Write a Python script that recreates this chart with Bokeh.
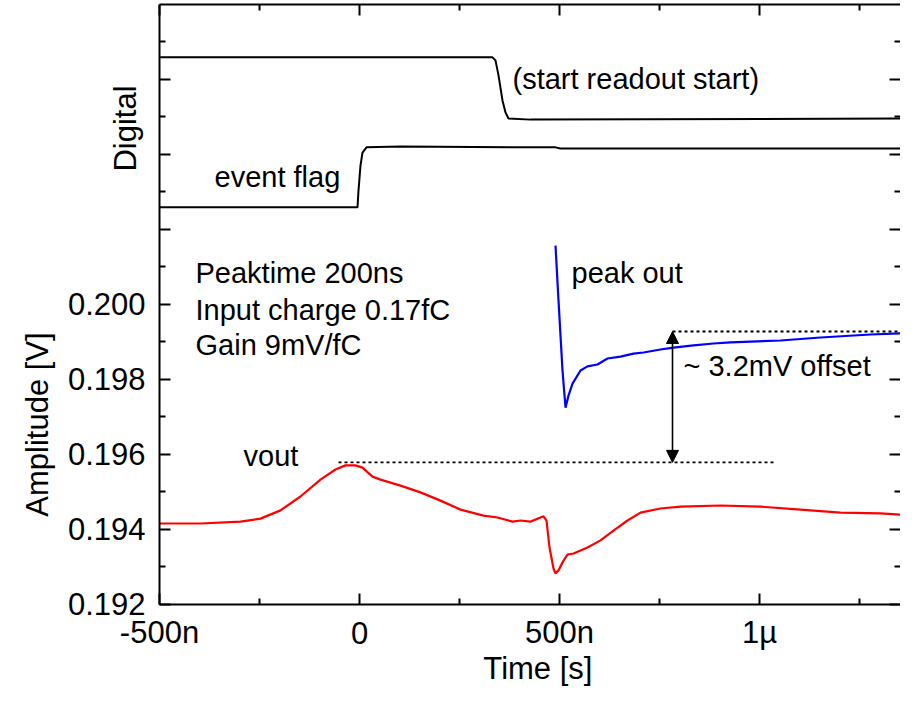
from bokeh.plotting import figure
from bokeh.models import Range1d, LinearAxis, FixedTicker, Arrow, NormalHead
from bokeh.core.properties import value
from bokeh.embed import file_html
from bokeh.resources import INLINE
import math

FONT = "Liberation Sans"

# ---------------- data (time in ns, amplitude in V) ----------------
vout_t = [-500, -397.5, -297.5, -247.5, -197.5, -147.5, -97.5, -60, -35, -10, 7.5,
          32.5, 52.5, 102.5, 152.5, 202.5, 252.5, 310, 345, 382.5, 402.5, 427.5,
          452.5, 460, 467.5, 475, 485, 490, 497.5, 510, 520, 535, 570, 602.5, 635,
          670, 702.5, 752.5, 802.5, 902.5, 1002.5, 1102.5, 1202.5, 1302.5, 1392.5]
vout_v = [0.19416, 0.19416, 0.19421, 0.19429, 0.19451, 0.19488, 0.19533, 0.19560,
          0.19571, 0.19571, 0.19565, 0.19541, 0.19533, 0.19517, 0.19499, 0.19477,
          0.19453, 0.19437, 0.19432, 0.19421, 0.19424, 0.19421, 0.19432, 0.19435,
          0.19424, 0.19352, 0.19296, 0.19283, 0.19291, 0.19317, 0.19333, 0.19336,
          0.19352, 0.19371, 0.19397, 0.19424, 0.19445, 0.19456, 0.19461, 0.19464,
          0.19461, 0.19453, 0.19445, 0.19443, 0.19437]

peak_t = [490, 497.5, 507.5, 515, 522.5, 532.5, 552.5, 570, 595, 620, 652.5, 685,
          710, 752.5, 785, 835, 885, 927.5, 1052.5, 1152.5, 1277.5, 1392.5]
peak_v = [0.20157, 0.20011, 0.19824, 0.19725, 0.19757, 0.19789, 0.19824, 0.19835,
          0.19840, 0.19856, 0.19861, 0.19869, 0.19872, 0.19880, 0.19885, 0.19891,
          0.19896, 0.19899, 0.19904, 0.19912, 0.19920, 0.19925]

readout_t = [-500, 332.5, 340, 347.5, 357.5, 365, 372.5, 427.5, 1392.5]
readout_v = [0.20659, 0.20659, 0.20651, 0.20611, 0.20544, 0.20512, 0.20496,
             0.20493, 0.20496]

flag_t = [-500, -5, -2.5, 2.5, 7.5, 17.5, 102.5, 490, 502.5, 1392.5]
flag_v = [0.20259, 0.20259, 0.20304, 0.20371, 0.20405, 0.20419, 0.20421,
          0.20419, 0.20416, 0.20416]

vout_peak_level = 0.19579
vout_level_t = [-52.5, 1040]
peak_level = 0.19928
peak_level_t = [782.5, 1392.5]
offset_t = 782.5

# axes
x_start, x_end = -500, 1352.5
y_start, y_end = 0.192, 0.208
x_major = [-500, 0, 500, 1000]
x_minor = [-250, 250, 750, 1250]
x_label_text = ["-500n", "0", "500n", "1µ"]
y_major = [0.192, 0.194, 0.196, 0.198, 0.200, 0.202, 0.204, 0.206]
y_minor = [0.193, 0.195, 0.197, 0.199, 0.201, 0.203, 0.205, 0.207]
y_label_vals = [0.192, 0.194, 0.196, 0.198, 0.200]
y_label_text = ["0.192", "0.194", "0.196", "0.198", "0.200"]

notes = ["Peaktime 200ns", "Input charge 0.17fC", "Gain 9mV/fC"]
notes_t = [-410, -410, -410]
notes_v = [0.200853, 0.19984, 0.198907]
labels = ["(start readout start)", "event flag", "peak out", "vout", "~ 3.2mV offset"]
labels_t = [382.5, -362.5, 530, -290, 810]
labels_v = [0.2060, 0.203413, 0.200853, 0.195947, 0.198373]

ytitles = ["Digital", "Amplitude [V]"]
ytitles_t = [-585, -805]
ytitles_v = [0.204693, 0.1968]
xtitle = "Time [s]"
xtitle_t = 446
xtitle_v = 0.1902933

ylabel_t = -535        # right edge of the y tick labels
xlabel_v = 0.191253    # vertical centre of the x tick labels

# ---------------- figure ----------------
p = figure(width=900, height=686, output_backend="svg", toolbar_location=None,
           x_range=Range1d(-897.5, x_end), y_range=Range1d(0.1898133, y_end),
           x_axis_location=None, y_axis_location=None,
           min_border_left=0, min_border_right=0, min_border_top=4,
           min_border_bottom=0)
p.outline_line_color = None
p.xgrid.visible = False
p.ygrid.visible = False
p.background_fill_color = "white"
p.border_fill_color = "white"


def style_axis(ax, line=True):
    ax.axis_line_width = 2
    ax.axis_line_color = "black" if line else None
    ax.major_tick_line_width = 2
    ax.minor_tick_line_width = 2
    ax.major_tick_in = 11
    ax.major_tick_out = 0
    ax.minor_tick_in = 6
    ax.minor_tick_out = 0
    ax.major_label_standoff = 0
    ax.major_label_text_font_size = "0px"


xb = LinearAxis(ticker=FixedTicker(ticks=x_major, minor_ticks=x_minor),
                bounds=(x_start, x_end), fixed_location=y_start)
xb.major_label_overrides = {k: "" for k in x_major}
style_axis(xb)
p.add_layout(xb, "below")

xt = LinearAxis(ticker=FixedTicker(ticks=x_major, minor_ticks=x_minor),
                bounds=(x_start, x_end))
xt.major_label_overrides = {k: "" for k in x_major}
style_axis(xt)
p.add_layout(xt, "above")

yl = LinearAxis(ticker=FixedTicker(ticks=y_major, minor_ticks=y_minor),
                bounds=(y_start, y_end), fixed_location=x_start)
yl.major_label_overrides = {k: "" for k in y_major}
style_axis(yl)
p.add_layout(yl, "left")

yr = LinearAxis(ticker=FixedTicker(ticks=y_major, minor_ticks=y_minor),
                bounds=(y_start, y_end))
yr.major_label_overrides = {k: "" for k in y_major}
style_axis(yr, line=False)
p.add_layout(yr, "right")

# tick labels and axis titles
p.text([ylabel_t] * len(y_label_vals), y_label_vals, text=y_label_text,
       text_font=value(FONT), text_font_size="31px", text_align="right",
       text_baseline="middle", text_color="black")
p.text(x_major, [xlabel_v] * len(x_major), text=x_label_text,
       text_font=value(FONT), text_font_size="31px", text_align="center",
       text_baseline="middle", text_color="black")
p.text(ytitles_t, ytitles_v, text=ytitles, angle=math.pi / 2,
       text_font=value(FONT), text_font_size="31px", text_align="center",
       text_baseline="middle", text_color="black")
p.text([xtitle_t], [xtitle_v], text=[xtitle],
       text_font=value(FONT), text_font_size="31px", text_align="center",
       text_baseline="middle", text_color="black")

# traces
p.line(vout_t, vout_v, line_color="#ff0000", line_width=2.2)
p.line(peak_t, peak_v, line_color="#0000ff", line_width=2.2)
p.line(readout_t, readout_v, line_color="black", line_width=2)
p.line(flag_t, flag_v, line_color="black", line_width=2)

# dotted reference levels
p.line(vout_level_t, [vout_peak_level] * 2, line_color="black", line_width=1.8,
       line_dash="3 3")
p.line(peak_level_t, [peak_level] * 2, line_color="black", line_width=1.8,
       line_dash="3 3")

p.add_layout(Arrow(start=NormalHead(size=12, fill_color="black", line_color="black"),
                   end=NormalHead(size=12, fill_color="black", line_color="black"),
                   x_start=offset_t, y_start=vout_peak_level,
                   x_end=offset_t, y_end=peak_level,
                   line_color="black", line_width=1.6))

# annotations
p.text(notes_t, notes_v, text=notes, text_font=value(FONT), text_font_size="29px",
       text_baseline="middle", text_align="left", text_color="black")
p.text(labels_t, labels_v, text=labels, text_font=value(FONT), text_font_size="29px",
       text_baseline="middle", text_align="left", text_color="black")

open("out.html", "w").write(file_html(p, INLINE))
